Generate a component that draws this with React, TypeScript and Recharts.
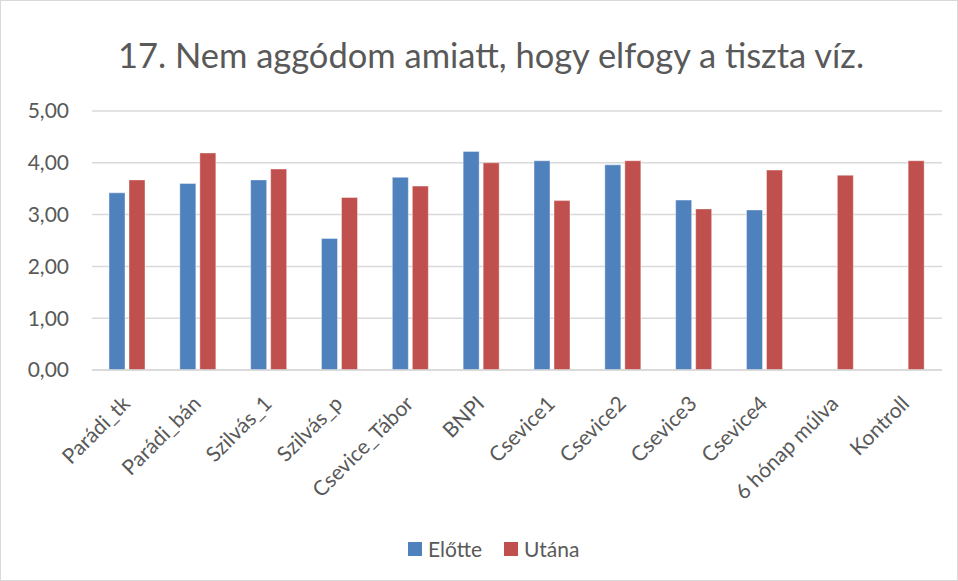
import React from 'react';
import { BarChart, Bar, XAxis, YAxis, CartesianGrid } from 'recharts';

const categories = [
  'Parádi_tk', 'Parádi_bán', 'Szilvás_1', 'Szilvás_p', 'Csevice_Tábor', 'BNPI',
  'Csevice1', 'Csevice2', 'Csevice3', 'Csevice4', '6 hónap múlva', 'Kontroll'
];
const elotte = [3.42, 3.60, 3.67, 2.54, 3.72, 4.22, 4.04, 3.96, 3.28, 3.09, null, null];
const utana = [3.67, 4.19, 3.88, 3.33, 3.55, 4.00, 3.27, 4.04, 3.11, 3.86, 3.76, 4.04];
const yTicks = [0, 1, 2, 3, 4, 5];
const seriesNames = ['Előtte', 'Utána'];
const seriesColors = ['#4f81bd', '#c0504d'];

const data = categories.map((name, i) => ({ name, elotte: elotte[i], utana: utana[i] }));

const FONT = 'Lato, "Open Sans", sans-serif';
const TEXT = '#595959';

const fmt = (v: number) => v.toFixed(2).replace('.', ',');

const XTick = (props: any) => {
  const { x, y, payload } = props;
  const tx = x + 4;
  const ty = y + 27;
  return (
    <text
      x={tx}
      y={ty}
      textAnchor="end"
      transform={`rotate(-45, ${tx}, ${ty})`}
      fill={TEXT}
      fontSize={21}
      fontFamily={FONT}
    >
      {payload.value}
    </text>
  );
};

export default function App() {
  return (
    <div
      style={{
        position: 'absolute',
        left: 0,
        top: 0,
        width: 956,
        height: 579,
        border: '1px solid #d9d9d9',
        background: '#fff',
        fontFamily: FONT
      }}
    >
      <div
        style={{
          position: 'absolute',
          top: 33,
          left: 0,
          width: 980,
          textAlign: 'center',
          fontSize: 34.5,
          color: TEXT,
          fontFamily: FONT
        }}
      >
        17. Nem aggódom amiatt, hogy elfogy a tiszta víz.
      </div>
      <BarChart
        width={956}
        height={579}
        data={data}
        margin={{ top: 110, right: 15, bottom: 79, left: 0 }}
        barGap={4}
        barSize={16}
      >
        <CartesianGrid vertical={false} stroke="#d9d9d9" strokeWidth={1.5} />
        <XAxis
          dataKey="name"
          interval={0}
          height={131}
          tick={<XTick />}
          tickLine={false}
          axisLine={{ stroke: '#d9d9d9', strokeWidth: 1.5 }}
        />
        <YAxis
          width={91}
          domain={[0, 5]}
          ticks={yTicks}
          tickFormatter={fmt}
          axisLine={false}
          tickLine={false}
          tickMargin={17}
          tick={{ fill: TEXT, fontSize: 21, fontFamily: FONT }}
        />
        <Bar dataKey="elotte" name={seriesNames[0]} fill={seriesColors[0]} stroke="#ffffff" strokeOpacity={0.4} isAnimationActive={false} />
        <Bar dataKey="utana" name={seriesNames[1]} fill={seriesColors[1]} stroke="#ffffff" strokeOpacity={0.4} isAnimationActive={false} />
      </BarChart>
      <div
        style={{
          position: 'absolute',
          top: 535,
          left: 407,
          display: 'flex',
          alignItems: 'center',
          fontSize: 21,
          color: TEXT,
          fontFamily: FONT
        }}
      >
        {seriesNames.map((n, i) => (
          <div key={n} style={{ display: 'flex', alignItems: 'center', marginRight: 22 }}>
            <span style={{ display: 'inline-block', width: 14, height: 14, background: seriesColors[i], marginRight: 6 }} />
            <span>{n}</span>
          </div>
        ))}
      </div>
    </div>
  );
}
